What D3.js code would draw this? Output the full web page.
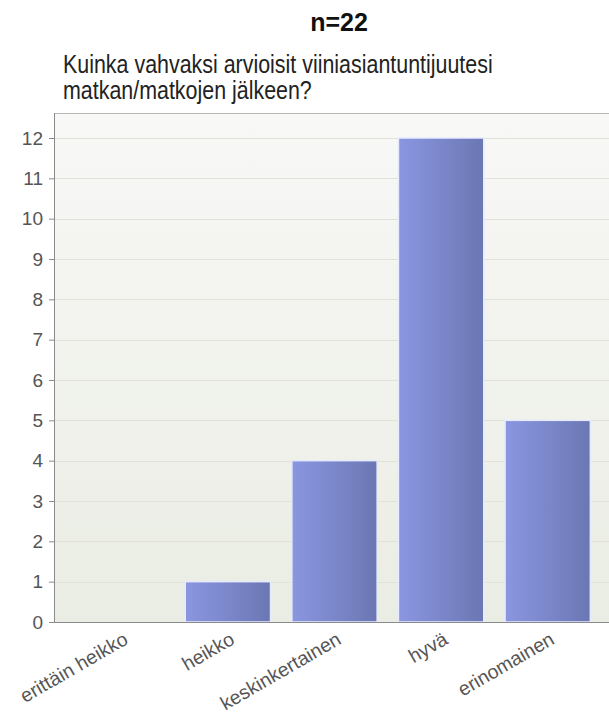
<!DOCTYPE html>
<html>
<head>
<meta charset="utf-8">
<script src="https://cdn.jsdelivr.net/npm/d3@7"></script>
<style>
  html, body { margin: 0; padding: 0; background: #fff; }
  svg { display: block; font-family: "Liberation Sans", Arial, sans-serif; }
</style>
</head>
<body>
<svg id="chart" width="609" height="717"></svg>
<script>
// Survey answers: self-rated wine expertise after the trip(s)
const categories = ["erittäin heikko", "heikko", "keskinkertainen", "hyvä", "erinomainen"];
const counts = [0, 1, 4, 12, 5];
const yTicks = [0, 1, 2, 3, 4, 5, 6, 7, 8, 9, 10, 11, 12];
const titleText = "n=22";
const subtitleLines = ["Kuinka vahvaksi arvioisit viiniasiantuntijuutesi", "matkan/matkojen jälkeen?"];

const svg = d3.select("#chart");

// plot frame
const plotLeft = 54, plotTop = 113, plotBottom = 622, plotRight = 609;

const x = d3.scaleBand()
  .domain(categories)
  .range([68, 601])
  .paddingInner(0.2)
  .paddingOuter(0.1);

const y = d3.scaleLinear()
  .domain([0, 12])
  .range([plotBottom, 138]);

const defs = svg.append("defs");

const bg = defs.append("linearGradient").attr("id", "plotBg")
  .attr("x1", 0).attr("y1", 0).attr("x2", 0).attr("y2", 1);
bg.append("stop").attr("offset", "0%").attr("stop-color", "#f8f8f7");
bg.append("stop").attr("offset", "100%").attr("stop-color", "#eaede3");

const barGrad = defs.append("linearGradient").attr("id", "barFill")
  .attr("x1", 0).attr("y1", 0).attr("x2", 1).attr("y2", 0);
barGrad.append("stop").attr("offset", "0%").attr("stop-color", "#8a97e0");
barGrad.append("stop").attr("offset", "100%").attr("stop-color", "#6b77b3");

// titles
svg.append("text")
  .attr("x", 339).attr("y", 31)
  .attr("text-anchor", "middle")
  .attr("font-size", 25).attr("font-weight", "bold")
  .attr("fill", "#111")
  .text(titleText);

const sub = svg.append("g");
const subLines = sub.selectAll("text").data(subtitleLines).join("text")
  .attr("x", 0)
  .attr("y", (d, i) => 73 + i * 26)
  .attr("font-size", 25)
  .attr("fill", "#222")
  .text(d => d);
const natural = subLines.nodes()[0].getComputedTextLength();
const sx = 430 / natural;
sub.attr("transform", `translate(63,0) scale(${sx},1)`);

// plot background
svg.append("rect")
  .attr("x", plotLeft).attr("y", plotTop)
  .attr("width", plotRight - plotLeft).attr("height", plotBottom - plotTop)
  .attr("fill", "url(#plotBg)");

// gridlines
svg.append("g").selectAll("line").data(yTicks.filter(t => t > 0)).join("line")
  .attr("x1", plotLeft).attr("x2", plotRight)
  .attr("y1", d => Math.round(y(d)) + 0.5).attr("y2", d => Math.round(y(d)) + 0.5)
  .attr("stroke", "#e0e2da").attr("stroke-width", 1);

// top frame line
svg.append("line")
  .attr("x1", plotLeft).attr("x2", plotRight)
  .attr("y1", plotTop + 0.5).attr("y2", plotTop + 0.5)
  .attr("stroke", "#b8b8b8");

// bars
svg.append("g").selectAll("rect").data(categories.map((c, i) => ({ c, v: counts[i] })))
  .join("rect")
  .attr("x", d => x(d.c))
  .attr("y", d => y(d.v))
  .attr("width", x.bandwidth())
  .attr("height", d => y(0) - y(d.v))
  .attr("fill", "url(#barFill)")
  .attr("stroke", "#e6eaff")
  .attr("stroke-width", 1.5);

// y axis
const yAxis = svg.append("g")
  .attr("transform", `translate(${plotLeft},0)`)
  .call(d3.axisLeft(y).tickValues(yTicks).tickSize(5).tickPadding(6).tickFormat(d3.format("d")));
yAxis.select(".domain").attr("stroke", "#8a8a8a").attr("d", `M0.5,${plotTop}V${plotBottom}`);
yAxis.selectAll(".tick line").attr("stroke", "#8a8a8a");
yAxis.selectAll(".tick text")
  .attr("font-size", 19).attr("fill", "#555")
  .attr("font-family", "Liberation Sans, Arial, sans-serif");

// x axis
const xAxis = svg.append("g")
  .attr("transform", `translate(0,${plotBottom})`)
  .call(d3.axisBottom(x).tickSize(0).tickPadding(0));
xAxis.select(".domain").attr("stroke", "#8a8a8a").attr("d", `M${plotLeft - 4},0.5H${plotRight}`);
xAxis.selectAll(".tick text")
  .attr("font-size", 19.5).attr("fill", "#555")
  .attr("font-family", "Liberation Sans, Arial, sans-serif")
  .attr("text-anchor", "end")
  .attr("dy", 0)
  .attr("transform", "translate(8,21) rotate(-30)");
</script>
</body>
</html>
